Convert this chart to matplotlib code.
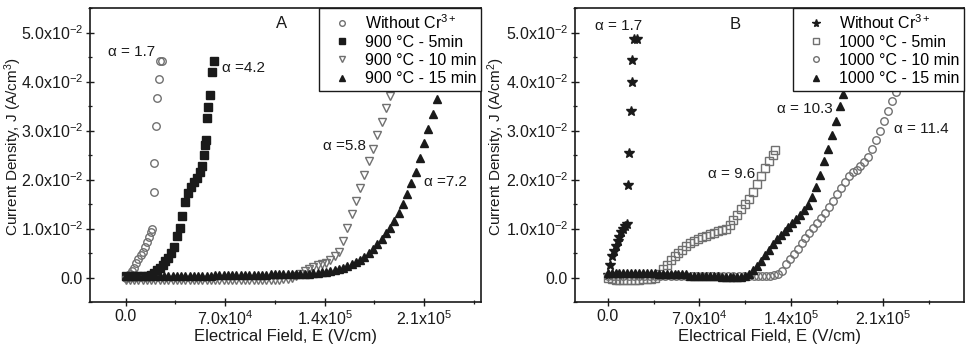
import numpy as np
import matplotlib
matplotlib.use("Agg")
import matplotlib.pyplot as plt
from matplotlib.ticker import FixedLocator, FixedFormatter, MultipleLocator

plt.rcParams['font.family'] = ['Liberation Sans', 'DejaVu Sans']
plt.rcParams['mathtext.fontset'] = 'custom'
plt.rcParams['mathtext.rm'] = 'Liberation Sans'
plt.rcParams['mathtext.it'] = 'Liberation Sans:italic'
plt.rcParams['mathtext.bf'] = 'Liberation Sans:bold'

# ---- shared tick labels ----
x_ticks = [0, 70000, 140000, 210000]
x_tick_labels = ['0.0', r'7.0x10$^{4}$', r'1.4x10$^{5}$', r'2.1x10$^{5}$']
y_ticks = [0.0, 0.01, 0.02, 0.03, 0.04, 0.05]
y_tick_labels = ['0.0', r'1.0x10$^{-2}$', r'2.0x10$^{-2}$', r'3.0x10$^{-2}$',
                 r'4.0x10$^{-2}$', r'5.0x10$^{-2}$']

# ---- panel A : 900 C samples ----
a_without_x = [0, 1500, 3000, 4500, 6000, 7500, 9000, 10500, 12000, 13500, 15000,
               16500, 18000, 18900, 20300, 20300, 21700, 22400, 23300, 24500, 25300]
a_without_y = [0.0, 0.0004, 0.0008, 0.0013, 0.0020, 0.0030, 0.0037, 0.0045, 0.0053,
               0.0062, 0.0072, 0.0082, 0.0092, 0.0099, 0.0174, 0.0233, 0.0310, 0.0367,
               0.0406, 0.0443, 0.0443]

a_5min_x = [0, 3000, 6000, 9000, 12000, 15000, 18000,
            20000, 22000, 24000, 26000, 28000, 30000, 32000, 34000, 36000, 38000,
            40000, 42000, 44000, 46000, 48000, 50000, 52000,
            53500, 54800, 56000, 56500, 57400, 57900, 59500, 60700, 62500]
a_5min_y = [0.0003, 0.0003, 0.0003, 0.0003, 0.0003, 0.0003, 0.0005,
            0.0010, 0.0015, 0.0020, 0.0026, 0.0033, 0.0040, 0.0050, 0.0062, 0.0085,
            0.0102, 0.0125, 0.0155, 0.0172, 0.0185, 0.0195, 0.0203, 0.0215,
            0.0228, 0.0251, 0.0270, 0.0280, 0.0326, 0.0348, 0.0372, 0.0419, 0.0443]

a_10min_x = [0, 3000, 6000, 9000, 12000, 15000, 18000, 21000, 24000, 27000, 30000,
             33000, 36000, 39000, 42000, 45000, 48000, 51000, 54000, 57000, 60000,
             63000, 66000, 69000, 72000, 75000, 78000, 81000, 84000, 87000, 90000,
             93000, 96000, 99000, 102000, 105000, 108000, 111000, 114000,
             117000, 120000, 123000, 126000, 129000, 132000, 135000, 138000, 141000,
             144000, 147000, 150000, 153000, 156000, 159000, 162000, 165000, 168000,
             171000, 174000, 177000, 180000, 183000, 186000, 189000, 192000, 195000]
a_10min_y = [-0.0005, -0.0005, -0.0005, -0.0005, -0.0005, -0.0005, -0.0005, -0.0005,
             -0.0005, -0.0005, -0.0005, -0.0005, -0.0005, -0.0005, -0.0005, -0.0005,
             -0.0005, -0.0005, -0.0005, -0.0005, -0.0005, -0.0005, -0.0005, -0.0005,
             -0.0005, -0.0005, -0.0005, -0.0005, -0.0005, -0.0005, -0.0005, -0.0005,
             -0.0005, -0.0005, -0.0005, -0.0005, -0.0005, -0.0004, -0.0003,
             -0.0001, 0.0003, 0.0008, 0.0013, 0.0018, 0.0022, 0.0025, 0.0027, 0.0030,
             0.0035, 0.0043, 0.0053, 0.0075, 0.0102, 0.0130, 0.0157, 0.0183, 0.0210,
             0.0237, 0.0263, 0.0290, 0.0318, 0.0346, 0.0370, 0.0395, 0.0420, 0.0445]

a_15min_x = [0, 3000, 6000, 9000, 12000, 15000, 18000, 21000, 24000, 27000, 30000,
             33000, 36000, 39000, 42000, 45000, 48000, 51000, 54000, 57000, 60000,
             63000, 66000, 69000, 72000, 75000, 78000, 81000, 84000, 87000, 90000,
             93000, 96000, 99000, 102000, 105000, 108000, 111000, 114000, 117000, 120000,
             123000, 126000, 129000, 132000, 135000, 138000, 141000, 144000, 147000,
             150000, 153000, 156000, 159000, 162000, 165000, 168000, 171000, 174000,
             177000, 180000, 183000, 186000, 189000, 192000, 195000, 198000, 201000,
             204000, 207000, 210000, 213000, 216000, 219000, 222000, 225000]
a_15min_y = [0.0003, 0.0003, 0.0003, 0.0003, 0.0003, 0.0003, 0.0003, 0.0003, 0.0003,
             0.0003, 0.0003, 0.0003, 0.0003, 0.0003, 0.0003, 0.0003, 0.0003, 0.0003,
             0.0003, 0.0003, 0.0003, 0.0005, 0.0005, 0.0005, 0.0005, 0.0005, 0.0005,
             0.0005, 0.0005, 0.0005, 0.0005, 0.0005, 0.0005, 0.0005, 0.0007, 0.0007,
             0.0007, 0.0007, 0.0007, 0.0007, 0.0007,
             0.0008, 0.0008, 0.0008, 0.0009, 0.0010, 0.0011, 0.0012, 0.0013, 0.0015,
             0.0017, 0.0020, 0.0023, 0.0027, 0.0031, 0.0036, 0.0042, 0.0050, 0.0059,
             0.0068, 0.0078, 0.0090, 0.0102, 0.0116, 0.0132, 0.0150, 0.0170, 0.0192,
             0.0215, 0.0245, 0.0275, 0.0304, 0.0334, 0.0365, 0.0398, 0.0430]

# ---- panel B : 1000 C samples ----
b_without_x = [0, 1500, 3000, 4500, 6000, 7500, 9000, 10500, 12000, 13500, 15000,
               15500, 16000, 17500, 18800, 18800, 20300, 22000]
b_without_y = [0.0005, 0.0025, 0.0043, 0.0055, 0.0065, 0.0074, 0.0083, 0.0092, 0.0100,
               0.0106, 0.0110, 0.0189, 0.0254, 0.0340, 0.0400, 0.0445, 0.0486, 0.0486]

b_5min_x = [0, 3000, 6000, 9000, 12000, 15000, 18000, 21000, 24000, 27000, 30000,
            33000, 36000, 39000, 42000, 45000, 48000, 51000, 54000, 57000, 60000,
            63000, 66000, 69000, 72000, 75000, 78000, 81000, 84000, 87000, 90000,
            93000, 96000, 99000, 102000, 105000, 108000, 111000, 114000, 117000,
            120000, 123000, 126000, 128000]
b_5min_y = [0.0000, -0.0003, -0.0005, -0.0006, -0.0006, -0.0006, -0.0006, -0.0005,
            -0.0005, -0.0004, -0.0003, -0.0002, 0.0000, 0.0008, 0.0017, 0.0026, 0.0035,
            0.0043, 0.0050, 0.0057, 0.0064, 0.0070, 0.0075, 0.0079, 0.0082, 0.0085,
            0.0088, 0.0091, 0.0094, 0.0097, 0.0100, 0.0107, 0.0117, 0.0128, 0.0140,
            0.0150, 0.0161, 0.0175, 0.0190, 0.0207, 0.0224, 0.0238, 0.0250, 0.0260]

b_10min_x = [0, 4000, 8000, 12000, 16000, 20000, 24000, 28000, 32000, 36000, 40000,
             44000, 48000, 52000, 56000, 60000, 64000, 68000, 72000, 76000, 80000,
             84000, 88000, 92000, 96000, 100000, 104000, 108000, 112000, 115000,
             118000, 121000, 124000, 127000, 130000,
             133000, 136000, 139000, 142000, 145000, 148000, 151000, 154000, 157000,
             160000, 163000, 166000, 169000, 172000, 175000, 178000, 181000, 184000,
             187000, 190000, 193000, 196000, 199000, 202000, 205000, 208000, 211000,
             214000, 217000, 220000, 223000, 226000, 229000]
b_10min_y = [0.0004, 0.0004, 0.0004, 0.0004, 0.0004, 0.0004, 0.0004, 0.0004, 0.0004,
             0.0004, 0.0004, 0.0004, 0.0004, 0.0004, 0.0004, 0.0004, 0.0004, 0.0004,
             0.0004, 0.0004, 0.0004, 0.0004, 0.0004, 0.0004, 0.0004, 0.0004, 0.0004,
             0.0004, 0.0004, 0.0004, 0.0004, 0.0004, 0.0004, 0.0005, 0.0007,
             0.0014, 0.0027, 0.0038, 0.0048, 0.0059, 0.0070, 0.0080, 0.0091, 0.0101,
             0.0112, 0.0122, 0.0132, 0.0144, 0.0156, 0.0170, 0.0183, 0.0196, 0.0208,
             0.0215, 0.0220, 0.0227, 0.0236, 0.0247, 0.0262, 0.0280, 0.0300, 0.0320,
             0.0340, 0.0360, 0.0378, 0.0398, 0.0418, 0.0438]

b_15min_x = [0, 3000, 6000, 9000, 12000, 15000, 18000, 21000, 24000, 27000, 30000,
             33000, 36000, 39000, 42000, 45000, 48000, 51000, 54000, 57000, 60000,
             63000, 66000, 69000, 72000, 75000, 78000, 81000, 84000, 87000, 90000,
             93000, 96000, 99000, 102000,
             105000, 108000, 111000, 114000, 117000, 120000, 123000, 126000, 129000,
             132000, 135000, 138000, 141000, 144000, 147000, 150000, 153000, 156000,
             159000, 162000, 165000, 168000, 171000, 174000, 177000, 180000, 183000,
             186000, 189000]
b_15min_y = [0.0010, 0.0010, 0.0010, 0.0010, 0.0010, 0.0010, 0.0010, 0.0010, 0.0010,
             0.0010, 0.0010, 0.0010, 0.0010, 0.0007, 0.0007, 0.0007, 0.0007, 0.0007,
             0.0007, 0.0007, 0.0007, 0.0004, 0.0004, 0.0004, 0.0004, 0.0004, 0.0004,
             0.0004, 0.0004, 0.0001, 0.0001, 0.0001, 0.0001, 0.0001, 0.0001,
             0.0003, 0.0008, 0.0015, 0.0023, 0.0033, 0.0045, 0.0057, 0.0068, 0.0078,
             0.0087, 0.0095, 0.0103, 0.0111, 0.0119, 0.0127, 0.0137, 0.0149, 0.0164,
             0.0185, 0.0210, 0.0237, 0.0262, 0.0290, 0.0320, 0.0350, 0.0375, 0.0400,
             0.0425, 0.0450]

# annotations (text, x, y)
a_notes = [('α = 1.7', -12600, 0.0460), ('α =4.2', 67900, 0.0427),
           ('α =5.8', 138600, 0.0269), ('α =7.2', 210000, 0.0196)]
b_notes = [('α = 1.7', -9900, 0.0514), ('α = 9.6', 76900, 0.0211),
           ('α = 10.3', 129400, 0.0344), ('α = 11.4', 218400, 0.0303)]

gray = '#707070'
ms = 5.4
dark = '#1a1a1a'


def setup_axes(ax, xmax, ylabel, label_x):
    ax.set_xlim(-25000, xmax)
    ax.set_ylim(-0.005, 0.055)
    ax.xaxis.set_major_locator(FixedLocator(x_ticks))
    ax.xaxis.set_major_formatter(FixedFormatter(x_tick_labels))
    ax.xaxis.set_minor_locator(MultipleLocator(35000))
    ax.yaxis.set_major_locator(FixedLocator(y_ticks))
    ax.yaxis.set_major_formatter(FixedFormatter(y_tick_labels))
    ax.yaxis.set_minor_locator(MultipleLocator(0.005))
    ax.tick_params(which='major', direction='inout', length=6, width=1.0,
                   labelsize=11.5, colors=dark, pad=2)
    ax.tick_params(which='minor', direction='inout', length=3.5, width=0.9,
                   colors=dark)
    for s in ax.spines.values():
        s.set_linewidth(1.2)
        s.set_color(dark)
    ax.set_xlabel('Electrical Field, E (V/cm)', fontsize=12, color=dark,
                  labelpad=1)
    ax.set_ylabel(ylabel, fontsize=11, color=dark)
    ax.yaxis.set_label_coords(label_x, 0.527)


fig = plt.figure(figsize=(9.66, 3.52), dpi=100)
axA = fig.add_axes([0.0932, 0.142, 0.4048, 0.835])
axB = fig.add_axes([0.5952, 0.142, 0.4027, 0.835])

# panel A
axA.plot(a_without_x, a_without_y, 'o', ms=ms, mfc='none', mec=gray, mew=1.0,
         label='Without Cr$^{3+}$')
axA.plot(a_5min_x, a_5min_y, 's', ms=ms, color=dark, label='900 °C - 5min')
axA.plot(a_10min_x, a_10min_y, 'v', ms=ms + 0.8, mfc='none', mec=gray, mew=1.0,
         label='900 °C - 10 min')
axA.plot(a_15min_x, a_15min_y, '^', ms=ms + 0.8, color=dark,
         label='900 °C - 15 min')
setup_axes(axA, 250000, 'Current Density, J (A/cm$^{3}$)', -0.168)
axA.text(110000, 0.0518, 'A', fontsize=12, ha='center', va='center', color=dark)
for t, x, y in a_notes:
    axA.text(x, y, t, fontsize=11, ha='left', va='center', color=dark)

# panel B
axB.plot(b_without_x, b_without_y, '*', ms=ms + 2.4, color=dark,
         label='Without Cr$^{3+}$')
axB.plot(b_5min_x, b_5min_y, 's', ms=ms, mfc='none', mec=gray, mew=1.0,
         label='1000 °C - 5min')
axB.plot(b_10min_x, b_10min_y, 'o', ms=ms, mfc='none', mec=gray, mew=1.0,
         label='1000 °C - 10 min')
axB.plot(b_15min_x, b_15min_y, '^', ms=ms + 0.8, color=dark,
         label='1000 °C - 15 min')
setup_axes(axB, 272000, 'Current Density, J (A/cm$^{2}$)', -0.174)
axB.text(97400, 0.0516, 'B', fontsize=12, ha='center', va='center', color=dark)
for t, x, y in b_notes:
    axB.text(x, y, t, fontsize=11, ha='left', va='center', color=dark)

for ax in (axA, axB):
    leg = ax.legend(loc='upper right', borderaxespad=0, fontsize=11.5,
                    frameon=True, fancybox=False, framealpha=1,
                    edgecolor=dark, labelspacing=0.2, handletextpad=0.35,
                    handlelength=2.2, borderpad=0.3, markerscale=0.75)
    leg.get_frame().set_linewidth(1.0)
    leg.set_zorder(5)

fig.savefig('out.png', dpi=100)
